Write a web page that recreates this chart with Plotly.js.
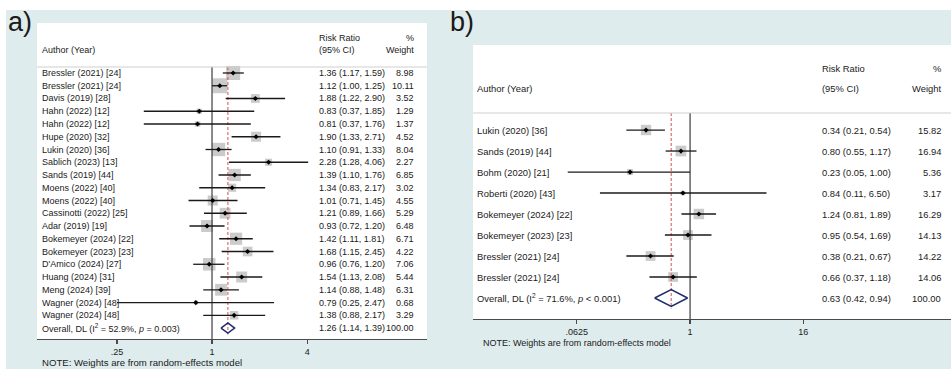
<!DOCTYPE html>
<html><head><meta charset="utf-8">
<script src="https://cdn.plot.ly/plotly-3.0.1.min.js"></script>
<style>html,body{margin:0;padding:0;background:#fff;}#chart{width:951px;height:369px;}</style>
</head><body><div id="chart"></div>
<script>
// ---------- Panel a data ----------
const aAuthors = ["Bressler (2021) [24]","Bressler (2021) [24]","Davis (2019) [28]","Hahn (2022) [12]","Hahn (2022) [12]","Hupe (2020) [32]","Lukin (2020) [36]","Sablich (2023) [13]","Sands (2019) [44]","Moens (2022) [40]","Moens (2022) [40]","Cassinotti (2022) [25]","Adar (2019) [19]","Bokemeyer (2024) [22]","Bokemeyer (2023) [23]","D'Amico (2024) [27]","Huang (2024) [31]","Meng (2024) [39]","Wagner (2024) [48]","Wagner (2024) [48]"];
const aEst = [1.36,1.12,1.88,0.83,0.81,1.90,1.10,2.28,1.39,1.34,1.01,1.21,0.93,1.42,1.68,0.96,1.54,1.14,0.79,1.38];
const aLo  = [1.17,1.00,1.22,0.37,0.37,1.33,0.91,1.28,1.10,0.83,0.71,0.89,0.72,1.11,1.15,0.76,1.13,0.88,0.25,0.88];
const aHi  = [1.59,1.25,2.90,1.85,1.76,2.71,1.33,4.06,1.76,2.17,1.45,1.66,1.20,1.81,2.45,1.20,2.08,1.48,2.47,2.17];
const aWt  = [8.98,10.11,3.52,1.29,1.37,4.52,8.04,2.27,6.85,3.02,4.55,5.29,6.48,6.71,4.22,7.06,5.44,6.31,0.68,3.29];
const aOverallLabel = "Overall, DL (I<sup>2</sup> = 52.9%, <i>p</i> = 0.003)";
const aOverall = [1.26, 1.14, 1.39, 100.00]; // est, lo, hi, weight
const aTickVals = [0.25, 1, 4];
const aTickText = [".25", "1", "4"];

// ---------- Panel b data ----------
const bAuthors = ["Lukin (2020) [36]","Sands (2019) [44]","Bohm (2020) [21]","Roberti (2020) [43]","Bokemeyer (2024) [22]","Bokemeyer (2023) [23]","Bressler (2021) [24]","Bressler (2021) [24]"];
const bEst = [0.34,0.80,0.23,0.84,1.24,0.95,0.38,0.66];
const bLo  = [0.21,0.55,0.05,0.11,0.81,0.54,0.21,0.37];
const bHi  = [0.54,1.17,1.00,6.50,1.89,1.69,0.67,1.18];
const bWt  = [15.82,16.94,5.36,3.17,16.29,14.13,14.22,14.06];
const bOverallLabel = "Overall, DL (I<sup>2</sup> = 71.6%, <i>p</i> &lt; 0.001)";
const bOverall = [0.63, 0.42, 0.94, 100.00];
const bTickVals = [0.0625, 1, 16];
const bTickText = [".0625", "1", "16"];

const headerAuthor = "Author (Year)";
const headerRR = "Risk Ratio";
const headerCI = "(95% CI)";
const headerPct = "%";
const headerWt = "Weight";
const noteText = "NOTE: Weights are from random-effects model";

// ---------- Layout helpers ----------
const W = 951, H = 369;
const FONT = "Liberation Sans, Arial, sans-serif";
const BG = "#dfeced";
const px = x => x / W;
const py = y => 1 - y / H;
const f2 = v => v.toFixed(2);

const traces = [];
const annotations = [];
const shapes = [];

function buildPanel(c) {
  const n = c.authors.length;
  const rows = c.authors.map((_, i) => i + 1);
  const oRow = n + 1;
  const xa = c.xa, ya = c.ya;
  // boxes
  traces.push({type:"scatter", mode:"markers", xaxis:xa, yaxis:ya, x:c.est, y:rows,
    marker:{symbol:"square", size:c.wt.map(w => c.k*Math.sqrt(w)), color:"#b5b5b5", line:{width:0}},
    hoverinfo:"skip", showlegend:false});
  // null line
  traces.push({type:"scatter", mode:"lines", xaxis:xa, yaxis:ya, x:[1,1], y:[c.lineRow, c.yBottom],
    line:{color:"#3c3c3c", width:1.2}, hoverinfo:"skip", showlegend:false});
  // overall dashed line
  traces.push({type:"scatter", mode:"lines", xaxis:xa, yaxis:ya, x:[c.overall[0], c.overall[0]], y:[c.lineRow, oRow + 0.5],
    line:{color:"#d9625f", width:1.1, dash:"3px,2px"}, hoverinfo:"skip", showlegend:false});
  // CI + point
  traces.push({type:"scatter", mode:"markers", xaxis:xa, yaxis:ya, x:c.est, y:rows,
    marker:{symbol:"diamond", size:4, color:"#000"},
    error_x:{type:"data", symmetric:false, array:c.est.map((e,i)=>c.hi[i]-e), arrayminus:c.est.map((e,i)=>e-c.lo[i]),
      width:0, thickness:1.3, color:"#1a1a1a"},
    hoverinfo:"skip", showlegend:false});
  // overall diamond
  const o = c.overall;
  traces.push({type:"scatter", mode:"lines", xaxis:xa, yaxis:ya,
    x:[o[1], o[0], o[2], o[0], o[1]], y:[oRow, oRow-0.4, oRow, oRow+0.4, oRow],
    line:{color:"#1f2d6b", width:1.5}, hoverinfo:"skip", showlegend:false});

  const yref = ya;
  const tf = {family:FONT, size:c.fs, color:"#1a1a1a"};
  const labels = c.authors.concat([c.overallLabel]);
  const ests = c.est.concat([o[0]]), los = c.lo.concat([o[1]]), his = c.hi.concat([o[2]]), wts = c.wt.concat([o[3]]);
  labels.forEach((lab, i) => {
    const r = i + 1;
    annotations.push({xref:"paper", yref:yref, x:px(c.xAuthor), y:r, xanchor:"left", yanchor:"middle", text:lab, showarrow:false, font:tf});
    annotations.push({xref:"paper", yref:yref, x:px(c.xCI), y:r, xanchor:"left", yanchor:"middle",
      text: f2(ests[i]) + " (" + f2(los[i]) + ", " + f2(his[i]) + ")", showarrow:false, font:tf});
    annotations.push({xref:"paper", yref:yref, x:px(c.xWt), y:r, xanchor:"right", yanchor:"middle", text:f2(wts[i]), showarrow:false, font:tf});
  });
  // headers
  annotations.push({xref:"paper", yref:"paper", x:px(c.xAuthor), y:py(c.hy2), xanchor:"left", yanchor:"middle", text:headerAuthor, showarrow:false, font:tf});
  annotations.push({xref:"paper", yref:"paper", x:px(c.xCI), y:py(c.hy1), xanchor:"left", yanchor:"middle", text:headerRR, showarrow:false, font:tf});
  annotations.push({xref:"paper", yref:"paper", x:px(c.xCI), y:py(c.hy2), xanchor:"left", yanchor:"middle", text:headerCI, showarrow:false, font:tf});
  annotations.push({xref:"paper", yref:"paper", x:px(c.xWt), y:py(c.hy1), xanchor:"right", yanchor:"middle", text:headerPct, showarrow:false, font:tf});
  annotations.push({xref:"paper", yref:"paper", x:px(c.xWt), y:py(c.hy2), xanchor:"right", yanchor:"middle", text:headerWt, showarrow:false, font:tf});
  // note
  annotations.push({xref:"paper", yref:"paper", x:px(c.noteX), y:py(c.noteY), xanchor:"left", yanchor:"middle", text:noteText, showarrow:false,
    font:{family:FONT, size:c.noteFs, color:"#1a1a1a"}});
  // panel letter
  annotations.push({xref:"paper", yref:"paper", x:px(c.letterX), y:py(c.letterY), xanchor:"left", yanchor:"middle", text:c.letter, showarrow:false,
    font:{family:FONT, size:c.letterFs, color:"#1a1a1a"}});
  // header separator
  shapes.push({type:"line", xref:"paper", yref:"paper", x0:px(c.left), x1:px(c.right), y0:py(c.sepY), y1:py(c.sepY),
    line:{color:"#cfcfcf", width:1}, layer:"above"});
}

buildPanel({xa:"x", ya:"y", authors:aAuthors, est:aEst, lo:aLo, hi:aHi, wt:aWt, overall:aOverall, overallLabel:aOverallLabel,
  k:4.7, lineRow:0.53, yBottom:21.86, fs:9, xAuthor:40, xCI:317, xWt:416, hy1:38, hy2:50,
  noteX:40, noteY:362.5, noteFs:9.6, letter:"a)", letterX:6, letterY:22, letterFs:27, left:37, right:427, sepY:67});
buildPanel({xa:"x2", ya:"y2", authors:bAuthors, est:bEst, lo:bLo, hi:bHi, wt:bWt, overall:bOverall, overallLabel:bOverallLabel,
  k:2.6, lineRow:0.19, yBottom:10.0, fs:9.4, xAuthor:475, xCI:820, xWt:943, hy1:68, hy2:89,
  noteX:481, noteY:343, noteFs:9, letter:"b)", letterX:448, letterY:22, letterFs:27, left:473, right:951, sepY:113});

// white margins around the figure background
shapes.unshift({type:"rect", xref:"paper", yref:"paper", x0:0, x1:1, y0:py(10), y1:1, fillcolor:"#ffffff", line:{width:0}, layer:"below"});
shapes.unshift({type:"rect", xref:"paper", yref:"paper", x0:0, x1:px(6), y0:0, y1:1, fillcolor:"#ffffff", line:{width:0}, layer:"below"});

const axCommon = {type:"log", showgrid:false, zeroline:false, showline:true, linecolor:"#4a4a4a", linewidth:1.3,
  ticks:"outside", ticklen:4, tickwidth:1.2, tickcolor:"#4a4a4a", tickfont:{family:FONT, size:9, color:"#1a1a1a"}, fixedrange:true};
const l2 = v => v * Math.LOG10E * Math.LN2; // log2 units -> log10

const layout = {
  width:W, height:H, autosize:false, margin:{l:0, r:0, t:0, b:0, pad:0},
  paper_bgcolor:BG, plot_bgcolor:"#ffffff", showlegend:false,
  xaxis:Object.assign({}, axCommon, {domain:[px(37), px(427)], anchor:"y", range:[l2(-3.68), l2(4.52)], tickvals:aTickVals, ticktext:aTickText}),
  yaxis:{domain:[py(339), py(23)], range:[21.86, -2.92], visible:false, showgrid:false, zeroline:false, fixedrange:true},
  xaxis2:Object.assign({}, axCommon, {domain:[px(473), 1], anchor:"y2", range:[l2(-7.67), l2(9.22)], tickvals:bTickVals, ticktext:bTickText}),
  yaxis2:{domain:[py(319), py(45)], range:[10.0, -3.05], visible:false, showgrid:false, zeroline:false, fixedrange:true},
  annotations:annotations, shapes:shapes
};

Plotly.newPlot("chart", traces, layout, {staticPlot:true, displayModeBar:false});
</script>
</body></html>
